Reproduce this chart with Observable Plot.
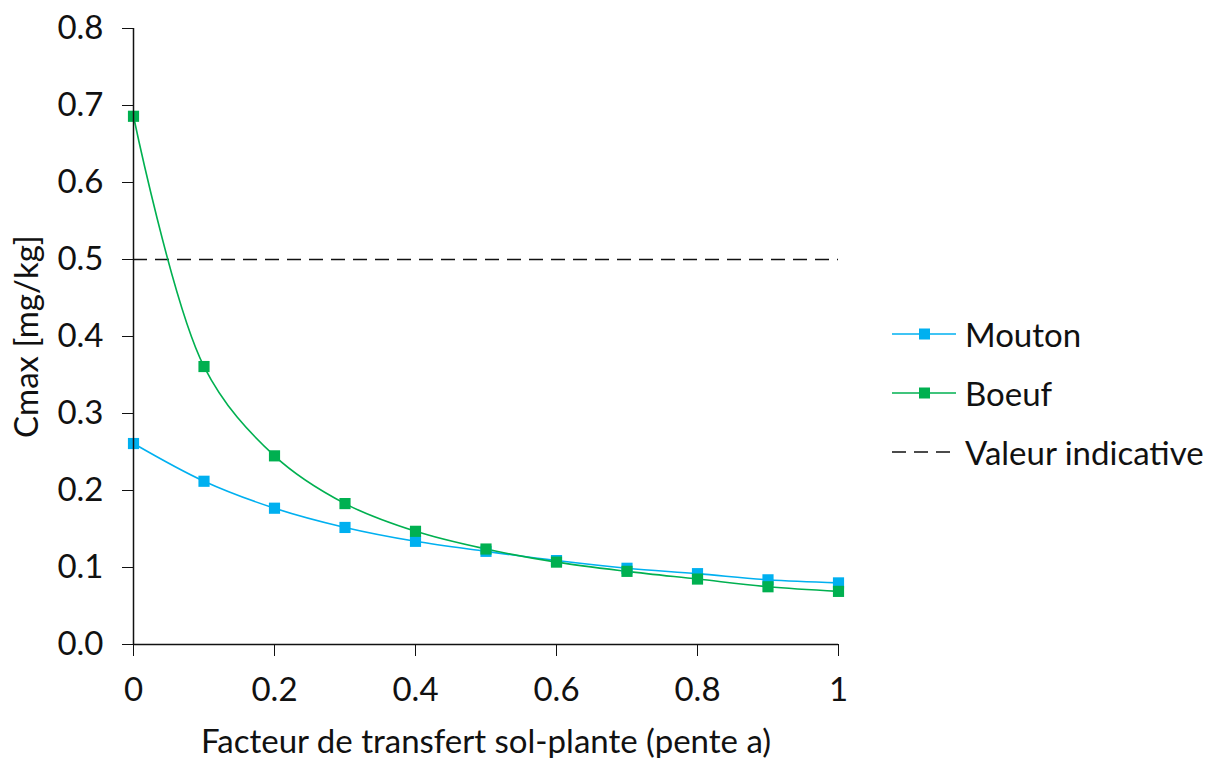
<!DOCTYPE html>
<html>
<head>
<meta charset="utf-8">
<script src="https://cdn.jsdelivr.net/npm/d3@7"></script>
<script src="https://cdn.jsdelivr.net/npm/@observablehq/plot@0.6"></script>
<style>
  html, body { margin: 0; padding: 0; background: #fff; }
  #wrap { position: relative; width: 1208px; height: 758px; font-family: Lato, "Open Sans", sans-serif; }
  #legend { position: absolute; left: 892px; top: 304px; font-size: 33px; color: #111; }
  .row { display: flex; align-items: center; height: 59px; }
  .row svg { margin-right: 7px; }
</style>
</head>
<body>
<div id="wrap"><div id="legend"></div></div>
<script>
const xValues = [0, 0.1, 0.2, 0.3, 0.4, 0.5, 0.6, 0.7, 0.8, 0.9, 1.0];
const mouton = [0.261, 0.212, 0.177, 0.152, 0.134, 0.121, 0.109, 0.099, 0.092, 0.084, 0.080];
const boeuf  = [0.686, 0.361, 0.245, 0.183, 0.147, 0.124, 0.107, 0.095, 0.085, 0.075, 0.069];
const seriesNames = ["Mouton", "Boeuf"];
const seriesColors = ["#00B0F0", "#00B050"];
const refValue = 0.5;
const refLabel = "Valeur indicative";
const xTicks = [0, 0.2, 0.4, 0.6, 0.8, 1];
const yTicks = [0, 0.1, 0.2, 0.3, 0.4, 0.5, 0.6, 0.7, 0.8];
const xLabel = "Facteur de transfert sol-plante (pente a)";
const yLabel = "Cmax [mg/kg]";

const data = [];
xValues.forEach((x, i) => {
  data.push({series: seriesNames[0], x, y: mouton[i]});
  data.push({series: seriesNames[1], x, y: boeuf[i]});
});

const font = "Lato, 'Open Sans', sans-serif";
const chart = Plot.plot({
  width: 1208,
  height: 758,
  marginLeft: 133,
  marginRight: 370,
  marginTop: 28,
  marginBottom: 114,
  style: {fontFamily: font, fontSize: "33px", color: "#111", background: "white"},
  x: {domain: [0, 1]},
  y: {domain: [0, 0.8]},
  color: {domain: seriesNames, range: seriesColors},
  marks: [
    Plot.ruleY([refValue], {x1: 0, x2: 1, stroke: "#111", strokeWidth: 1.6, strokeDasharray: "14,8"}),
    Plot.line(data, {x: "x", y: "y", z: "series", stroke: "series", strokeWidth: 1.6, curve: "catmull-rom"}),
    Plot.dot(data, {x: "x", y: "y", fill: "series", symbol: "square", r: 6.3}),
    Plot.ruleX([0], {stroke: "#111", strokeWidth: 1.5}),
    Plot.ruleY([0], {stroke: "#111", strokeWidth: 1.5}),
    Plot.axisX({ticks: xTicks, tickFormat: d => String(d), tickSize: 12, tickPadding: 21, fontSize: 33,
      label: xLabel, labelAnchor: "center", labelOffset: 108, labelArrow: "none", stroke: "#111"}),
    Plot.axisY({ticks: yTicks, tickFormat: d3.format(".1f"), tickSize: 11, tickPadding: 19, fontSize: 33,
      label: yLabel, labelAnchor: "center", labelOffset: 119, labelArrow: "none", stroke: "#111"})
  ]
});
document.getElementById("wrap").prepend(chart);

// Legend
const legend = document.getElementById("legend");
const entries = [
  {name: seriesNames[0], color: seriesColors[0], dash: null, marker: true},
  {name: seriesNames[1], color: seriesColors[1], dash: null, marker: true},
  {name: refLabel, color: "#111", dash: "14,8", marker: false}
];
entries.forEach(e => {
  const row = document.createElement("div");
  row.className = "row";
  const s = d3.create("svg").attr("width", 66).attr("height", 20);
  s.append("line").attr("x1", 0).attr("x2", 64).attr("y1", 10).attr("y2", 10)
    .attr("stroke", e.color).attr("stroke-width", 1.6).attr("stroke-dasharray", e.dash);
  if (e.marker) s.append("rect").attr("x", 27).attr("y", 4.5).attr("width", 11).attr("height", 11).attr("fill", e.color);
  row.appendChild(s.node());
  const t = document.createElement("span");
  t.textContent = e.name;
  row.appendChild(t);
  legend.appendChild(row);
});
</script>
</body>
</html>
